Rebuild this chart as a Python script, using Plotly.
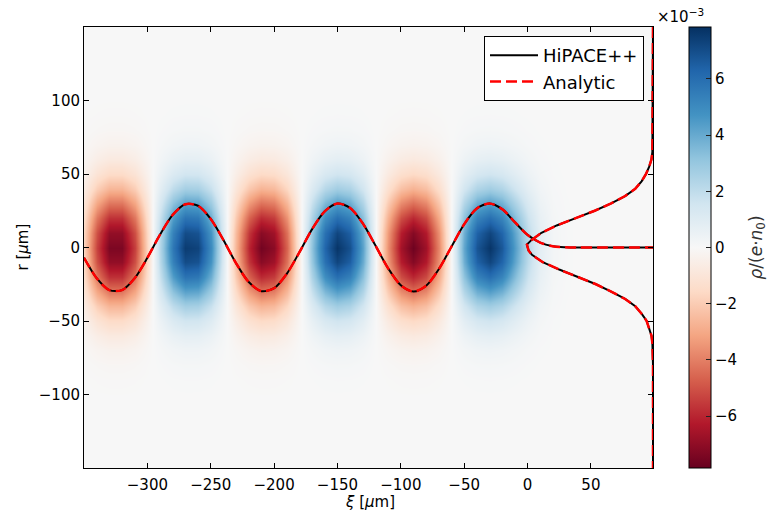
import numpy as np
import plotly.graph_objects as go

# ---- charge density field (units of 1e-3 e*n0) ----
# longitudinal on-axis profile, sampled every 10 um
xi_grid = list(range(-350, 101, 10))
rho_axis = [-1.8, -5.4, -7.4, -7.4, -5.4, -1.8, 2.3, 5.7, 7.5, 7.3,
            5.0, 1.3, -2.7, -6.0, -7.6, -7.1, -4.6, -0.8, 3.2, 6.3,
            7.7, 6.9, 4.2, 0.3, -3.6, -6.6, -7.7, -6.7, -3.8, 0.2,
            4.1, 6.8, 7.7, 6.7, 4.4, 2.2, 0.8, 0.2, 0.05, 0.0,
            0.0, 0.0, 0.0, 0.0, 0.0, 0.0]
# radial shape, sampled every 10 um
r_grid = list(range(-150, 151, 10))
radial_half = [1.0, 0.938, 0.775, 0.563, 0.360, 0.203, 0.101, 0.044,
               0.017, 0.006, 0.002, 0.0, 0.0, 0.0, 0.0, 0.0]   # r = 0..150
radial = radial_half[:0:-1] + radial_half

# ---- beam centroid r(xi) ----
centroid_xi = [-350, -340, -330, -320, -310, -300, -290, -280, -270, -260,
               -250, -240, -230, -220, -210, -200, -190, -180, -170, -160,
               -150, -140, -130, -120, -110, -100, -90, -80, -70, -60,
               -50, -40, -30, -20, -10, 0, 10, 20, 30, 40, 60, 80, 99]
centroid_r = [-7.0, -20.9, -29.0, -29.0, -20.9, -7.0, 8.8, 22.2, 29.4, 28.4,
              19.4, 5.1, -10.7, -23.5, -29.7, -27.7, -17.9, -3.2, 12.5, 24.6,
              29.9, 26.9, 16.4, 1.3, -14.2, -25.7, -30.0, -26.0, -14.7, 0.6,
              15.8, 26.6, 30.0, 26.1, 17.2, 8.6, 3.3, 0.9, 0.2, 0.0, 0.0, 0.0, 0.0]

# ---- transverse beam profile drawn against the right edge ----
profile_r = [150, 90, 80, 70, 65, 60, 55, 50, 45, 40, 35, 30, 25, 20, 15, 10, 5, 2,
             -2, -5, -10, -15, -20, -25, -30, -35, -40, -45, -50, -55, -60, -65,
             -70, -80, -90, -150]
profile_xi = [99, 99, 99, 98.8, 98.5, 97.8, 96, 93.5, 90, 85, 77, 66, 53, 38, 23, 11, 3, -0.5,
              0.8, 3.5, 12, 25, 39, 54, 66, 77, 85, 90, 94, 96.2, 97.8, 98.5,
              98.8, 99, 99, 99]

x_ticks = [-300, -250, -200, -150, -100, -50, 0, 50]
y_ticks = [-100, -50, 0, 50, 100]
cb_ticks = [-6, -4, -2, 0, 2, 4, 6]
x_range = [-350, 99]
y_range = [-150, 150]
z_lim = 7.85

z = np.outer(np.array(radial), np.array(rho_axis))

rdbu = ["#67001f", "#b2182b", "#d6604d", "#f4a582", "#fddbc7", "#f7f7f7",
        "#d1e5f0", "#92c5de", "#4393c3", "#2166ac", "#053061"]
colorscale = [[i / (len(rdbu) - 1), c] for i, c in enumerate(rdbu)]

FONT = "DejaVu Sans"
L, R, T, B = 84, 114, 27, 45
W, H = 767, 513
pw, ph = W - L - R, H - T - B

fig = go.Figure()
fig.add_trace(go.Heatmap(
    x=xi_grid, y=r_grid, z=z, zsmooth="best", zmin=-z_lim, zmax=z_lim,
    colorscale=colorscale, hoverinfo="skip",
    colorbar=dict(
        x=(689 - L) / pw, xanchor="left", xpad=0, y=0.5, yanchor="middle",
        len=1, lenmode="fraction", thickness=22, ypad=0,
        outlinewidth=1, outlinecolor="black",
        tickvals=cb_ticks, ticks="inside", ticklen=5, tickcolor="#222",
        tickfont=dict(family=FONT, size=15, color="black"),
    ),
))

black = dict(color="black", width=2)
red = dict(color="red", width=2.5, dash="11px,5px")

fig.add_trace(go.Scatter(x=centroid_xi, y=centroid_r, mode="lines", name="HiPACE++",
                         line=dict(**black, shape="spline", smoothing=0.8),
                         legendgroup="a"))
fig.add_trace(go.Scatter(x=profile_xi, y=profile_r, mode="lines", showlegend=False,
                         line=black, legendgroup="a"))
fig.add_trace(go.Scatter(x=centroid_xi, y=centroid_r, mode="lines", name="Analytic",
                         line=dict(**red, shape="spline", smoothing=0.8),
                         legendgroup="b"))
fig.add_trace(go.Scatter(x=profile_xi, y=profile_r, mode="lines", showlegend=False,
                         line=red, legendgroup="b"))

axis_common = dict(
    showline=True, linecolor="black", linewidth=1, mirror="ticks",
    ticks="inside", ticklen=5, tickwidth=1, tickcolor="black",
    showgrid=False, zeroline=False,
    tickfont=dict(family=FONT, size=15, color="black"),
)
fig.update_xaxes(range=x_range, tickvals=x_ticks, ticklabelstandoff=3, **axis_common)
fig.update_yaxes(range=y_range, tickvals=y_ticks, **axis_common)

fig.update_layout(
    width=W, height=H,
    margin=dict(l=L, r=R, t=T, b=B),
    paper_bgcolor="white", plot_bgcolor="white",
    font=dict(family=FONT, color="black"),
    legend=dict(
        x=(644 - L) / pw, xanchor="right", y=1 - (36 - T) / ph, yanchor="top",
        bgcolor="white", bordercolor="black", borderwidth=1,
        font=dict(family=FONT, size=18), tracegroupgap=0,
        itemwidth=48,
    ),
    annotations=[
        dict(text="<i>ξ</i> [<i>μ</i>m]", xref="paper", yref="paper",
             x=(370 - L) / pw, y=-(502 - (T + ph)) / ph, showarrow=False,
             font=dict(family=FONT, size=15), xanchor="center", yanchor="middle"),
        dict(text="r [<i>μ</i>m]", xref="paper", yref="paper",
             x=(22 - L) / pw, y=0.5, showarrow=False, textangle=-90,
             font=dict(family=FONT, size=15), xanchor="center", yanchor="middle"),
        dict(text="×10<sup>−3</sup>", xref="paper", yref="paper",
             x=(680 - L) / pw, y=1 + (T - 16) / ph, showarrow=False,
             font=dict(family=FONT, size=15), xanchor="center", yanchor="middle"),
        dict(text="<i>ρ</i>/(<i>e</i>·<i>n</i><sub>0</sub>)", xref="paper", yref="paper",
             x=(757 - L) / pw, y=0.5, showarrow=False, textangle=-90,
             font=dict(family=FONT, size=17, color="#333"),
             xanchor="center", yanchor="middle"),
    ],
)

fig.write_html("out.html")
